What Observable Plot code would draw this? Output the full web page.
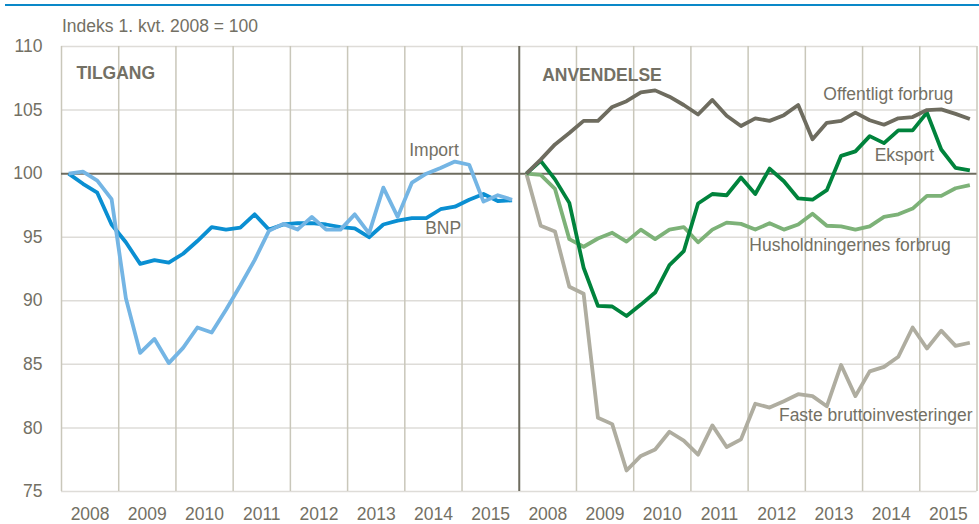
<!DOCTYPE html>
<html>
<head>
<meta charset="utf-8">
<script src="https://cdn.jsdelivr.net/npm/d3@7"></script>
<script src="https://cdn.jsdelivr.net/npm/@observablehq/plot@0.6"></script>
<style>
  html, body { margin: 0; padding: 0; background: #fff; }
  #wrap { position: relative; width: 979px; height: 524px; overflow: hidden; }
  #topline { position: absolute; left: 5px; right: 0; top: 4px; height: 2px; background: #0a88c8; }
  #title { position: absolute; left: 62px; top: 18px; font: 17.5px "Liberation Sans", Arial, sans-serif; line-height: 1; color: #737064; white-space: nowrap; }
  #chart { position: absolute; left: 0; top: 0; }
</style>
</head>
<body>
<div id="wrap">
  <div id="topline"></div>
  <div id="title">Indeks 1. kvt. 2008 = 100</div>
  <div id="chart"></div>
</div>
<script>
// ---- Data (quarterly, 2008K1 .. 2015K4), index 1. kvt. 2008 = 100 ----
const years = ["2008", "2009", "2010", "2011", "2012", "2013", "2014", "2015"];
const yTicks = [75, 80, 85, 90, 95, 100, 105, 110];

// TILGANG
const bnp = [100, 99.2, 98.5, 96.0, 94.6, 92.9, 93.2, 93.0,
             93.7, 94.7, 95.8, 95.6, 95.75, 96.8, 95.6, 96.0,
             96.1, 96.1, 96.0, 95.8, 95.7, 95.0, 96.0, 96.3,
             96.5, 96.5, 97.2, 97.4, 97.95, 98.4, 97.85, 97.9];
const importV = [100, 100.15, 99.45, 98.0, 90.2, 85.9, 87.0, 85.1,
                 86.3, 87.9, 87.5, 89.3, 91.2, 93.2, 95.5, 96.05,
                 95.6, 96.6, 95.6, 95.6, 96.8, 95.3, 98.9, 96.6,
                 99.3, 100.0, 100.45, 100.95, 100.7, 97.8, 98.3, 97.95];

// ANVENDELSE
const offentligt = [100, 101.1, 102.3, 103.2, 104.15, 104.15, 105.25, 105.7,
                    106.4, 106.55, 106.05, 105.4, 104.65, 105.8, 104.55, 103.75,
                    104.35, 104.15, 104.6, 105.4, 102.7, 104.0, 104.15, 104.8,
                    104.2, 103.85, 104.35, 104.45, 105.0, 105.05, 104.7, 104.3];
const eksport = [100, 101.0, 99.55, 97.7, 92.6, 89.6, 89.55, 88.8,
                 89.7, 90.65, 92.8, 93.9, 97.65, 98.4, 98.3, 99.7,
                 98.4, 100.4, 99.4, 98.05, 97.95, 98.7, 101.4, 101.75,
                 102.95, 102.4, 103.4, 103.4, 104.8, 101.9, 100.45, 100.25];
const husholdninger = [100, 99.9, 98.8, 94.85, 94.25, 94.9, 95.35, 94.65,
                       95.6, 94.85, 95.6, 95.8, 94.6, 95.6, 96.15, 96.05,
                       95.6, 96.1, 95.6, 96.0, 96.85, 95.9, 95.85, 95.6,
                       95.85, 96.6, 96.8, 97.25, 98.25, 98.25, 98.85, 99.1];
const faste = [100, 95.9, 95.45, 91.1, 90.55, 80.8, 80.3, 76.65,
               77.8, 78.3, 79.7, 79.0, 77.9, 80.2, 78.5, 79.1,
               81.9, 81.6, 82.1, 82.65, 82.5, 81.7, 84.95, 82.5,
               84.45, 84.8, 85.6, 87.9, 86.25, 87.65, 86.45, 86.7];

// ---- Build table: left panel occupies years 0..8, right panel 8..16 ----
const seriesDefs = [
  {name: "BNP", values: bnp, panel: 0, color: "#0a8fd2"},
  {name: "Import", values: importV, panel: 0, color: "#74b5e4"},
  {name: "Faste bruttoinvesteringer", values: faste, panel: 1, color: "#afada0"},
  {name: "Husholdningernes forbrug", values: husholdninger, panel: 1, color: "#7db278"},
  {name: "Eksport", values: eksport, panel: 1, color: "#00833c"},
  {name: "Offentligt forbrug", values: offentligt, panel: 1, color: "#6e6c5f"}
];
const rows = seriesDefs.flatMap(s => s.values.map((v, i) => ({
  series: s.name, x: s.panel * years.length + i / 4 + 0.125, y: v
})));

const textColor = "#737064";
const font = '"Liberation Sans", Arial, sans-serif';

const xGrid = d3.range(0, 2 * years.length + 1).filter(d => d !== years.length);
const xTickPos = d3.range(0, 2 * years.length).map(d => d + 0.5);

const labels = [
  {text: "TILGANG", x: 0.26, y: 107.9, bold: true},
  {text: "ANVENDELSE", x: 8.40, y: 107.7, bold: true},
  {text: "Import", x: 6.51, y: 101.85},
  {text: "BNP", x: 6.67, y: 95.72},
  {text: "Offentligt forbrug", x: 14.45, y: 106.26},
  {text: "Eksport", x: 14.73, y: 101.42},
  {text: "Husholdningernes forbrug", x: 13.78, y: 94.34},
  {text: "Faste bruttoinvesteringer", x: 14.23, y: 81.0}
];

const chart = Plot.plot({
  width: 979,
  height: 524,
  marginTop: 46,
  marginBottom: 33,
  marginLeft: 61,
  marginRight: 2.5,
  style: {fontFamily: font, fontSize: "17.5px", color: textColor, background: "transparent", overflow: "visible"},
  x: {domain: [0, 2 * years.length]},
  y: {domain: [75, 110]},
  color: {domain: seriesDefs.map(s => s.name), range: seriesDefs.map(s => s.color)},
  marks: [
    Plot.ruleY(yTicks.filter(d => d !== 100), {stroke: "#dedcd8", strokeWidth: 1.5}),
    Plot.ruleX(xGrid, {stroke: "#c9c7ba", strokeWidth: 1.5}),
    Plot.ruleY([100], {stroke: "#6e6c5f", strokeWidth: 2}),
    Plot.ruleX([years.length], {stroke: "#6e6c5f", strokeWidth: 2}),
    Plot.lineY(rows, {x: "x", y: "y", z: "series", stroke: "series", strokeWidth: 3.8, strokeLinejoin: "round", strokeLinecap: "butt"}),
    Plot.axisY({ticks: yTicks, tickSize: 0, tickPadding: 19, label: null, fill: textColor, fontSize: "17.5px"}),
    Plot.axisX({ticks: xTickPos, tickFormat: d => years[Math.floor(d) % years.length], tickSize: 0, tickPadding: 16, label: null, fill: textColor, fontSize: "17.5px"}),
    Plot.text(labels.filter(d => !d.bold), {x: "x", y: "y", text: "text", textAnchor: "middle", fill: textColor, fontSize: 17.5}),
    Plot.text(labels.filter(d => d.bold), {x: "x", y: "y", text: "text", textAnchor: "start", fill: textColor, fontSize: 17.5, fontWeight: "bold"})
  ]
});
document.getElementById("chart").appendChild(chart);
</script>
</body>
</html>
